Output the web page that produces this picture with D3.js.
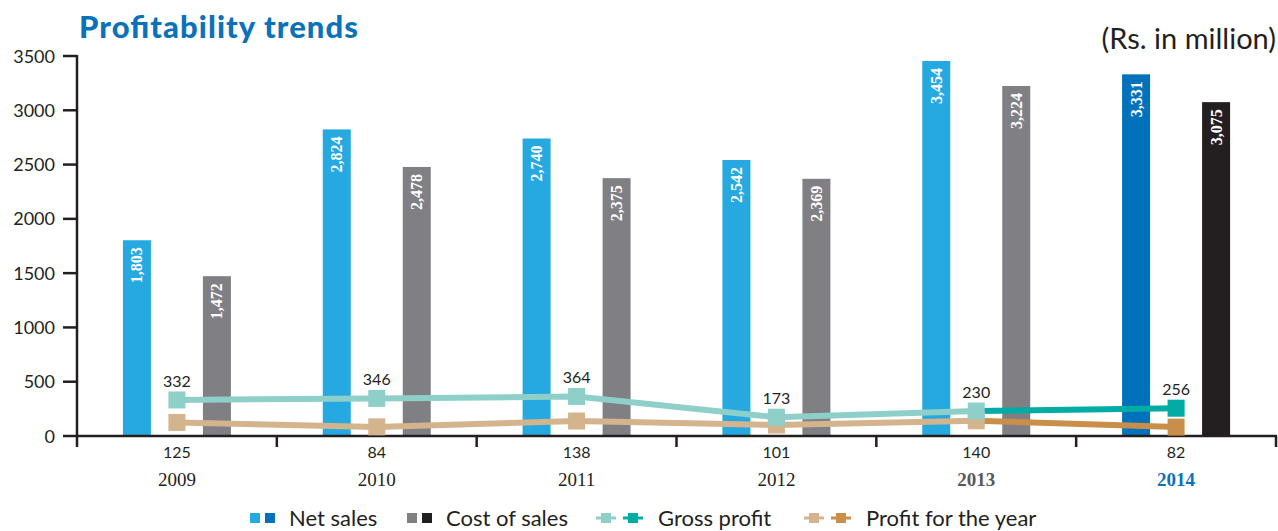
<!DOCTYPE html>
<html><head><meta charset="utf-8">
<script src="https://cdn.jsdelivr.net/npm/d3@7"></script>
<style>body{margin:0;background:#fff;} svg{display:block;}</style>
</head><body>
<svg id="c" width="1278" height="531"></svg>
<script>
const years = ["2009","2010","2011","2012","2013","2014"];
const netSales = [1803, 2824, 2740, 2542, 3454, 3331];
const costOfSales = [1472, 2478, 2375, 2369, 3224, 3075];
const grossProfit = [332, 346, 364, 173, 230, 256];
const profitYear = [125, 84, 138, 101, 140, 82];
const yTicks = [0, 500, 1000, 1500, 2000, 2500, 3000, 3500];

const C = {
  net: "#25a9e0", net14: "#0071bb",
  cost: "#808084", cost14: "#231f20",
  gp: "#8fcfca", gp14: "#00aca4",
  pf: "#d3b48c", pf14: "#c98f4a"
};
const sans = "Lato, 'Open Sans', sans-serif";
const serif = "'Liberation Serif', 'DejaVu Serif', serif";

const svg = d3.select("#c");
const x = d3.scaleBand().domain(years).range([77, 1276]).padding(0);
const y = d3.scaleLinear().domain([0, 3500]).range([436, 56]);
const cx = d => x(d) + x.bandwidth() / 2;
const last = years.length - 1;
const bw = 28, off = 40;

// title
svg.append("text").attr("x", 79).attr("y", 38).text("Profitability trends")
  .attr("font-family", sans).attr("font-weight", 900).attr("font-size", 31).attr("fill", "#0a72ba")
  .attr("textLength", 279).attr("lengthAdjust", "spacing");
svg.append("text").attr("x", 1276).attr("y", 49).attr("text-anchor", "end").text("(Rs. in million)")
  .attr("font-family", sans).attr("font-size", 29).attr("fill", "#231f20");

// bars
years.forEach((yr, i) => {
  const c = cx(yr);
  svg.append("rect").attr("x", c - off - bw / 2).attr("y", y(netSales[i]))
    .attr("width", bw).attr("height", y(0) - y(netSales[i]))
    .attr("fill", i === last ? C.net14 : C.net);
  svg.append("rect").attr("x", c + off - bw / 2).attr("y", y(costOfSales[i]))
    .attr("width", bw).attr("height", y(0) - y(costOfSales[i]))
    .attr("fill", i === last ? C.cost14 : C.cost);
  [[c - off, netSales[i]], [c + off, costOfSales[i]]].forEach(([bx, v]) => {
    svg.append("text").attr("transform", `translate(${bx + 5.5},${y(v) + 7}) rotate(-90)`)
      .attr("text-anchor", "end")
      .attr("font-family", serif).attr("font-weight", "bold").attr("font-size", 16)
      .attr("fill", "#fff").text(d3.format(",")(v));
  });
});

// axes
const g = svg.append("g").attr("stroke", "#231f20").attr("stroke-width", 2.5);
g.append("line").attr("x1", 77).attr("x2", 77).attr("y1", 55).attr("y2", 447);
g.append("line").attr("x1", 76).attr("x2", 1277).attr("y1", 436).attr("y2", 436);
yTicks.forEach(t => {
  g.append("line").attr("x1", 63).attr("x2", 77).attr("y1", y(t)).attr("y2", y(t));
  svg.append("text").attr("x", 55).attr("y", y(t) + 6.5).attr("text-anchor", "end")
    .attr("font-family", sans).attr("font-size", 18).attr("fill", "#231f20").text(t);
});
years.forEach(yr => {
  g.append("line").attr("x1", x(yr) + x.bandwidth()).attr("x2", x(yr) + x.bandwidth())
    .attr("y1", 436).attr("y2", 447);
});

// lines
function drawSeries(vals, col, col14) {
  const line = d3.line().x(d => cx(d[0])).y(d => y(d[1]));
  const pts = years.map((yr, i) => [yr, vals[i]]);
  svg.append("path").attr("d", line(pts.slice(0, last))).attr("fill", "none")
    .attr("stroke", col).attr("stroke-width", 6);
  svg.append("path").attr("d", line(pts.slice(last - 1))).attr("fill", "none")
    .attr("stroke", col14).attr("stroke-width", 6);
}
drawSeries(profitYear, C.pf, C.pf14);
drawSeries(grossProfit, C.gp, C.gp14);
const ms = 17;
years.forEach((yr, i) => {
  svg.append("rect").attr("x", cx(yr) - ms / 2).attr("y", y(profitYear[i]) - ms / 2)
    .attr("width", ms).attr("height", ms).attr("fill", i === last ? C.pf14 : C.pf);
  svg.append("rect").attr("x", cx(yr) - ms / 2).attr("y", y(grossProfit[i]) - ms / 2)
    .attr("width", ms).attr("height", ms).attr("fill", i === last ? C.gp14 : C.gp);
  svg.append("text").attr("x", cx(yr)).attr("y", y(grossProfit[i]) - 13).attr("text-anchor", "middle")
    .attr("font-family", sans).attr("font-size", 16).attr("fill", "#231f20").text(grossProfit[i]);
  svg.append("text").attr("x", cx(yr)).attr("y", 458).attr("text-anchor", "middle")
    .attr("font-family", sans).attr("font-size", 16).attr("fill", "#231f20").text(profitYear[i]);
  svg.append("text").attr("x", cx(yr)).attr("y", 486).attr("text-anchor", "middle")
    .attr("font-family", serif).attr("font-size", 19)
    .attr("font-weight", i >= 4 ? "bold" : "normal")
    .attr("fill", i === last ? "#0a72ba" : (i === 4 ? "#58595b" : "#231f20")).text(yr);
});

// legend
const lg = svg.append("g");
const leg = [
  {type: "sq", c1: C.net, c2: C.net14, x: 250, label: "Net sales", tx: 289},
  {type: "sq", c1: C.cost, c2: C.cost14, x: 407, label: "Cost of sales", tx: 446},
  {type: "ln", c1: C.gp, c2: C.gp14, x: 596, label: "Gross profit", tx: 658},
  {type: "ln", c1: C.pf, c2: C.pf14, x: 804, label: "Profit for the year", tx: 866}
];
const ly = 518;
leg.forEach(l => {
  if (l.type === "sq") {
    lg.append("rect").attr("x", l.x).attr("y", ly - 5).attr("width", 10).attr("height", 10).attr("fill", l.c1);
    lg.append("rect").attr("x", l.x + 15).attr("y", ly - 5).attr("width", 10).attr("height", 10).attr("fill", l.c2);
  } else {
    [[l.x, l.c1], [l.x + 27, l.c2]].forEach(([mx, col]) => {
      lg.append("line").attr("x1", mx).attr("x2", mx + 20).attr("y1", ly).attr("y2", ly)
        .attr("stroke", col).attr("stroke-width", 3);
      lg.append("rect").attr("x", mx + 5).attr("y", ly - 5).attr("width", 10).attr("height", 10).attr("fill", col);
    });
  }
  lg.append("text").attr("x", l.tx).attr("y", ly + 8).attr("font-family", sans).attr("font-size", 22)
    .attr("fill", "#231f20").text(l.label);
});
</script>
</body></html>
